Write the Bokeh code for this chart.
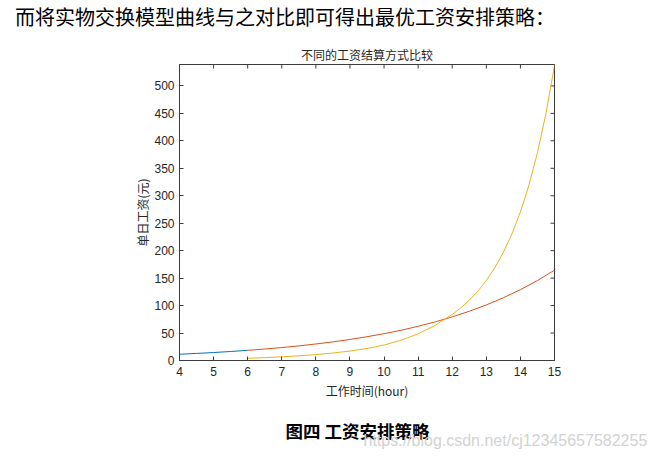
import math
from bokeh.plotting import figure
from bokeh.models import FixedTicker, Range1d
from bokeh.core.properties import value
from bokeh.embed import file_html
from bokeh.resources import INLINE

# ---------------- data ----------------
hours_blue = [4, 4.5, 5, 5.5, 6]
wage_blue = [11.4, 12.9, 14.5, 16.4, 18.5]

hours_red = [6, 6.5, 7, 7.5, 8, 8.5, 9, 9.5, 10, 10.5, 11, 11.5, 12,
             12.5, 13, 13.5, 14, 14.5, 15]
wage_red = [18.5, 20.9, 23.6, 26.6, 30.1, 33.9, 38.3, 43.3, 48.8, 55.1,
            62.3, 70.3, 79.4, 89.6, 101.2, 114.3, 129.0, 145.6, 164.5]

hours_yellow = [6, 6.5, 7, 7.5, 8, 8.5, 9, 9.5, 10, 10.5, 11, 11.5, 12,
                12.25, 12.5, 12.75, 13, 13.25, 13.5, 13.75, 14, 14.25,
                14.5, 14.75, 15]
wage_yellow = [4.0, 5.2, 6.7, 8.5, 10.8, 13.6, 17.2, 21.9, 28.1, 36.9,
               48.6, 63.9, 84.0, 95.8, 109.7, 126.1, 145.7, 169.0, 196.9,
               230.4, 270.5, 319.2, 378.3, 450.2, 537.0]

x_ticks = [4, 5, 6, 7, 8, 9, 10, 11, 12, 13, 14, 15]
y_ticks = [0, 50, 100, 150, 200, 250, 300, 350, 400, 450, 500]
x_min, x_max = 4, 15
y_min, y_max = 0, 539

header_text = "而将实物交换模型曲线与之对比即可得出最优工资安排策略："
chart_title = "不同的工资结算方式比较"
x_label = "工作时间(hour)"
y_label = "单日工资(元)"
caption_text = "图四  工资安排策略"
watermark_text = "https://blog.csdn.net/cj12345657582255"

AX = "#3c3c3c"
TXT = "#262626"
CJK = "Noto Sans CJK SC"
W = 656


def blank(height):
    f = figure(width=W, height=height, x_range=Range1d(0, W),
               y_range=Range1d(height, 0), output_backend="svg",
               toolbar_location=None, min_border=0,
               background_fill_color="white", border_fill_color="white")
    f.axis.visible = False
    f.grid.visible = False
    f.outline_line_color = None
    return f


# ---------------- header strip (page text + chart title) ----------------
top = blank(63)
top.text(x=[14.6], y=[15.7], text=[header_text], text_font=value(CJK),
         text_font_size="20px", text_color="black",
         text_align="left", text_baseline="middle")
top.text(x=[366.5], y=[54], text=[chart_title], text_font=value(CJK),
         text_font_size="12px", text_color=TXT,
         text_align="center", text_baseline="middle")

# ---------------- main chart ----------------
p = figure(width=W, height=342,
           x_range=Range1d(x_min, x_max), y_range=Range1d(y_min, y_max),
           output_backend="svg", toolbar_location=None,
           min_border_left=179, min_border_right=102,
           min_border_top=1, min_border_bottom=45,
           background_fill_color="white", border_fill_color="white")
p.grid.visible = False
p.outline_line_color = AX
p.outline_line_width = 1

for ax in (p.xaxis[0], p.yaxis[0]):
    ax.axis_line_color = AX
    ax.major_tick_line_color = AX
    ax.major_tick_in = 4
    ax.major_tick_out = 0
    ax.minor_tick_line_color = None
    ax.major_label_text_font = "Liberation Sans"
    ax.major_label_text_font_size = "12px"
    ax.major_label_text_color = TXT
    ax.axis_label_text_font = CJK
    ax.axis_label_text_font_size = "12px"
    ax.axis_label_text_font_style = "normal"
    ax.axis_label_text_color = TXT

p.xaxis.ticker = FixedTicker(ticks=x_ticks)
p.yaxis.ticker = FixedTicker(ticks=y_ticks)
p.xaxis.major_label_standoff = 6
p.yaxis.major_label_standoff = 5
p.xaxis.axis_label = x_label
p.yaxis.axis_label = y_label
p.xaxis.axis_label_standoff = 3
p.yaxis.axis_label_standoff = 0

# mirrored inward ticks on the top and right edges (box style)
p.scatter(x=x_ticks, y=[y_max] * len(x_ticks), marker="dash", size=8,
          angle=math.pi / 2, line_color=AX, line_width=1)
p.scatter(x=[x_max] * len(y_ticks), y=y_ticks, marker="dash", size=8,
          line_color=AX, line_width=1)

p.line(hours_blue, wage_blue, line_color="#0072BD", line_width=1)
p.line(hours_red, wage_red, line_color="#D95319", line_width=1)
p.line(hours_yellow, wage_yellow, line_color="#EDB120", line_width=1)

# ---------------- caption strip ----------------
bottom = blank(54)
bottom.text(x=[285], y=[25], text=[caption_text], text_font=value(CJK),
            text_font_size="17.5px", text_font_style="bold", text_color="black",
            text_align="left", text_baseline="middle")
bottom.text(x=[363], y=[35], text=[watermark_text],
            text_font=value("Liberation Sans"), text_font_size="16px",
            text_color="#d2d2d2", text_align="left", text_baseline="middle")

# three independent roots, stacked in page flow (no frame alignment)
open("out.html", "w").write(file_html([top, p, bottom], INLINE))
